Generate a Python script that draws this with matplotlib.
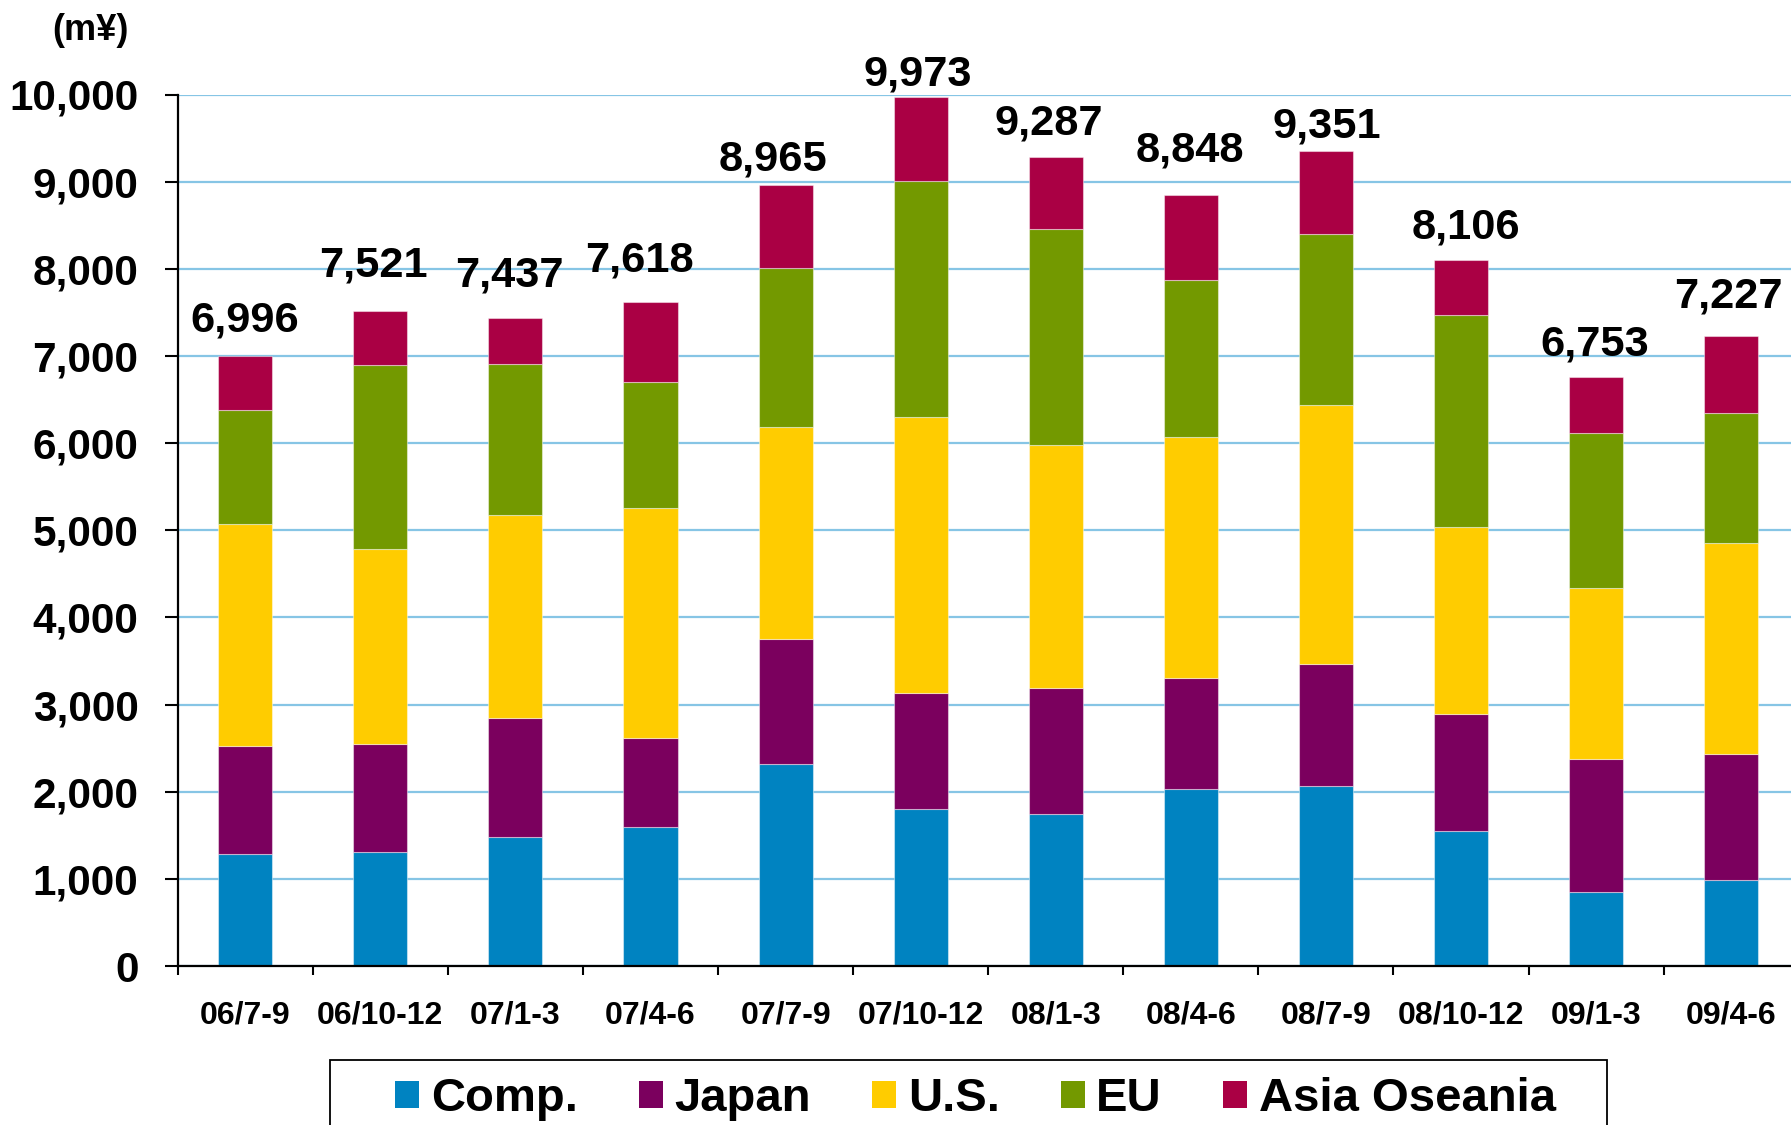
import matplotlib
matplotlib.use("Agg")
import matplotlib.pyplot as plt
from matplotlib.patches import Patch, Rectangle
import numpy as np

plt.rcParams['font.family'] = ['Liberation Sans', 'DejaVu Sans']
plt.rcParams['font.weight'] = 'bold'

categories = ["06/7-9", "06/10-12", "07/1-3", "07/4-6", "07/7-9", "07/10-12",
              "08/1-3", "08/4-6", "08/7-9", "08/10-12", "09/1-3", "09/4-6"]
series_names = ["Comp.", "Japan", "U.S.", "EU", "Asia Oseania"]
comp = [1284, 1311, 1481, 1599, 2320, 1800, 1740, 2031, 2071, 1547, 852, 983]
japan = [1246, 1232, 1363, 1022, 1428, 1328, 1453, 1272, 1389, 1349, 1520, 1455]
us = [2542, 2241, 2333, 2635, 2438, 3172, 2790, 2765, 2975, 2137, 1966, 2411]
eu = [1311, 2110, 1730, 1441, 1822, 2710, 2469, 1809, 1966, 2437, 1783, 1494]
asia = [613, 627, 530, 921, 957, 963, 835, 971, 950, 636, 632, 884]
y_ticks = [0, 1000, 2000, 3000, 4000, 5000, 6000, 7000, 8000, 9000, 10000]

colors = ["#0083C1", "#7B005E", "#FFCC00", "#739900", "#AA0044"]
# label placement offsets (pixels) relative to bar top / centre
label_dx = [0, -7, -6, -11, -13, -3, -7, -1, 1, 5, -1, -3]
label_dy = [25, 34, 31, 31, 14, 11, 22, 33, 14, 21, 22, 29]

W, H = 1791, 1125
fig = plt.figure(figsize=(W / 100, H / 100), dpi=100)
ax = fig.add_axes([177.7 / W, 1 - 966 / H, 1621 / W, (966 - 94.5) / H])

x = np.arange(len(categories))
series = [comp, japan, us, eu, asia]
bottom = np.zeros(len(categories))
for vals, c in zip(series, colors):
    ax.bar(x, vals, width=0.4, bottom=bottom, color=c,
           edgecolor=(1, 1, 1, 0.45), linewidth=0.8, zorder=3)
    bottom += np.array(vals)

totals = bottom
for i, t in enumerate(totals):
    ax.annotate(f"{int(round(t)):,}", xy=(x[i], t),
                xytext=(label_dx[i] * 0.72, label_dy[i] * 0.72),
                textcoords="offset points", ha="center", va="baseline",
                fontsize=31.2, fontweight="bold", annotation_clip=False, zorder=5)

ax.set_xlim(-0.5, len(categories) - 0.5)
ax.set_ylim(0, 10000)
ax.set_yticks(y_ticks)
ax.set_yticklabels([f"{v:,}" for v in y_ticks], fontsize=30.4, fontweight="bold")
ax.set_xticks(x)
ax.set_xticklabels(categories, fontsize=23, fontweight="bold")
ax.set_xticks(np.arange(-0.5, len(categories) + 0.5, 1), minor=True)
ax.tick_params(axis="x", which="major", length=0, pad=25)
ax.tick_params(axis="x", which="minor", length=6.5, width=1.5, direction="out")
ax.tick_params(axis="y", which="major", length=9.2, width=1.5, pad=19)

ax.yaxis.grid(True, color="#86C5E5", linewidth=1.6, zorder=0)
ax.set_axisbelow(True)
for s in ["top", "right"]:
    ax.spines[s].set_visible(False)
for s in ["left", "bottom"]:
    ax.spines[s].set_linewidth(1.6)
    ax.spines[s].set_color("black")
    ax.spines[s].set_zorder(4)

fig.text(90 / W, 1 - 30 / H, "(m\u00a5)", fontsize=26, fontweight="bold",
         ha="center", va="center")

# legend frame (cut off by the figure bottom as in the reference)
fig.patches.append(Rectangle((330 / W, -0.05), (1607 - 330) / W, 0.05 + 1 - 1060 / H,
                             transform=fig.transFigure, fill=False,
                             edgecolor="black", linewidth=1.3))
handles = [Patch(facecolor=c, edgecolor="none") for c in colors]
fig.legend(handles, series_names, loc="upper center",
           bbox_to_anchor=(975.5 / W, 1 - 1077 / H), ncol=5, frameon=False,
           prop={"weight": "bold", "size": 34},
           handlelength=0.5, handleheight=0.5, handletextpad=0.25,
           columnspacing=1.3, borderpad=0, borderaxespad=0)

fig.savefig("out.png", dpi=100)
